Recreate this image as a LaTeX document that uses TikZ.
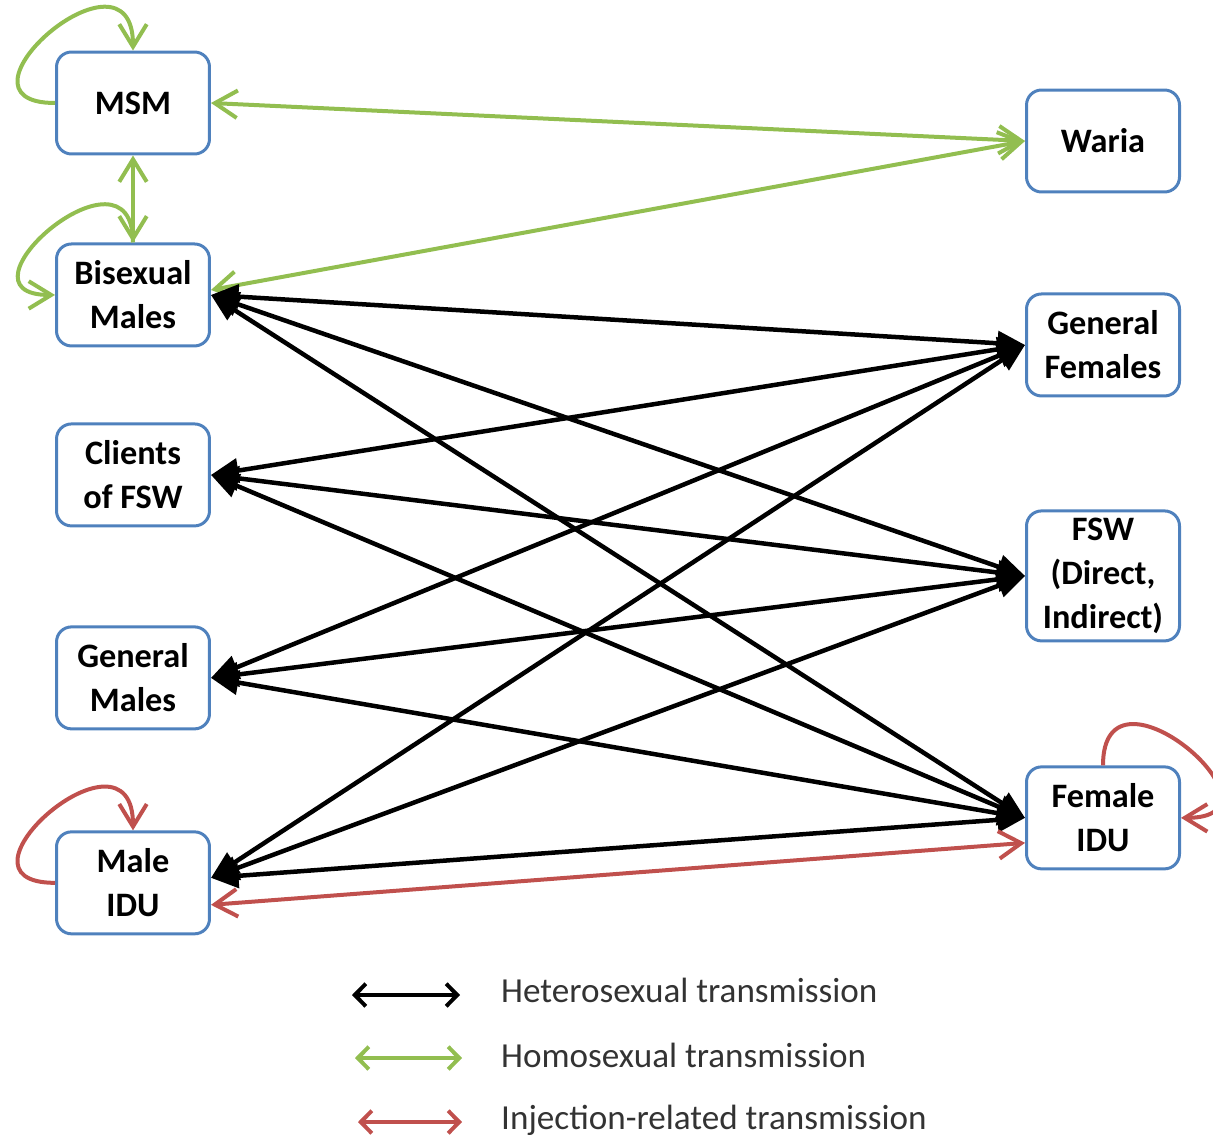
\documentclass[tikz,border=0pt]{standalone}
\usepackage{fontspec}
\setmainfont{Carlito}
\usetikzlibrary{positioning,arrows.meta}
\definecolor{popblue}{RGB}{79,129,189}
\definecolor{homogreen}{RGB}{146,190,80}
\definecolor{injectred}{RGB}{192,80,77}
\tikzset{
  pop/.style={draw=popblue, line width=0.06cm, rounded corners=0.3cm, minimum width=3.06cm,
    minimum height=2.04cm, inner sep=0pt, align=center, font=\bfseries\fontsize{19.5}{25}\selectfont},
  hetero/.style={line width=0.09cm, >={Triangle[length=0.55cm,width=0.48cm]}},
  homo/.style={draw=homogreen, line width=0.08cm, >={Straight Barb[length=0.45cm,width=0.55cm]}},
  inject/.style={draw=injectred, line width=0.08cm, >={Straight Barb[length=0.45cm,width=0.55cm]}},
  keyarrow/.style={line width=0.08cm, >={Straight Barb[length=0.22cm,width=0.45cm]}},
  keytext/.style={anchor=west, text=black!80, font=\fontsize{20}{24}\selectfont}
}
\begin{document}
\begin{tikzpicture}[x=0.02cm, y=-0.02cm]
  \useasboundingbox (0,0) rectangle (1213,1138);
  \node[pop] (msm) at (133,103) {MSM};
  \node[pop, below=1.74cm of msm] (bi) {Bisexual\\Males};
  \node[pop, below=1.5cm of bi] (cl) {Clients\\of FSW};
  \node[pop, below=1.96cm of cl] (gm) {General\\Males};
  \node[pop, below=2.0cm of gm] (mi) {Male\\IDU};
  \node[pop] (wa) at (1103,141) {Waria};
  \node[pop, below=1.98cm of wa] (gf) {General\\Females};
  \node[pop, below=2.24cm of gf, minimum height=2.6cm] (fsw) {FSW\\(Direct,\\Indirect)};
  \node[pop, below=2.46cm of fsw] (fi) {Female\\IDU};

  \draw[homo,->] (msm.west) to[out=180,in=90,looseness=3.2] (msm.north);
  \draw[homo,->] (bi.north) to[out=90,in=180,looseness=3] (bi.west);
  \draw[homo,<->] (msm.south) -- (bi.north);
  \draw[homo,<->] (msm.east) -- (wa.west);
  \draw[homo,<->] ([yshift=0.1cm]bi.east) -- (wa.west);
  \draw[inject,->] (mi.west) to[out=180,in=90,looseness=3.2] (mi.north);
  \draw[inject,->] (fi.north) to[out=90,in=0,looseness=3.2] (fi.east);

  \draw[hetero,<->] (bi.east) -- (gf.west);
  \draw[hetero,<->] (bi.east) -- (fsw.west);
  \draw[hetero,<->] (bi.east) -- (fi.west);
  \draw[hetero,<->] (cl.east) -- (gf.west);
  \draw[hetero,<->] (cl.east) -- (fsw.west);
  \draw[hetero,<->] (cl.east) -- (fi.west);
  \draw[hetero,<->] (gm.east) -- (gf.west);
  \draw[hetero,<->] (gm.east) -- (fsw.west);
  \draw[hetero,<->] (gm.east) -- (fi.west);
  \draw[hetero,<->] ([yshift=0.1cm]mi.east) -- (gf.west);
  \draw[hetero,<->] ([yshift=0.1cm]mi.east) -- (fsw.west);
  \draw[hetero,<->] ([yshift=0.1cm]mi.east) -- (fi.west);
  \draw[inject,<->] ([yshift=-0.44cm]mi.east) -- ([yshift=-0.5cm]fi.west);

  \node[keytext] (hettext) at (495,990) {Heterosexual transmission};
  \node[keytext] (homtext) at (495,1055) {Homosexual transmission};
  \node[keytext] (injtext) at (495,1120) {Injection-related transmission};
  \coordinate (het1) at (352,995); \coordinate (het2) at (460,995);
  \coordinate (hom1) at (355,1058); \coordinate (hom2) at (462,1058);
  \coordinate (inj1) at (358,1122); \coordinate (inj2) at (462,1122);
  \draw[keyarrow,<->] (het1) -- (het2);
  \draw[keyarrow,<->,draw=homogreen] (hom1) -- (hom2);
  \draw[keyarrow,<->,draw=injectred] (inj1) -- (inj2);
\end{tikzpicture}
\end{document}
